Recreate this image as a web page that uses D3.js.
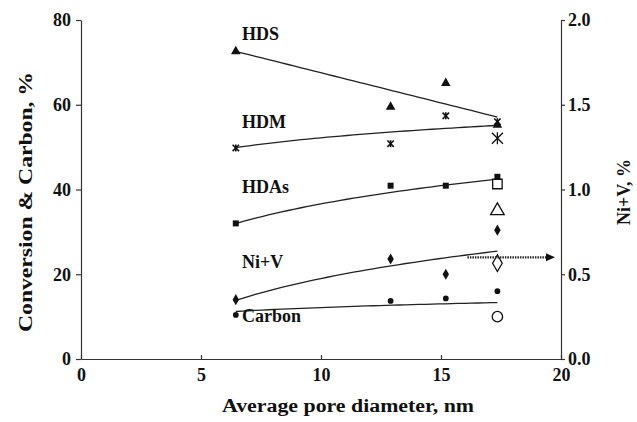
<!DOCTYPE html>
<html>
<head>
<meta charset="utf-8">
<script src="https://cdn.jsdelivr.net/npm/d3@7"></script>
<style>
  body { margin: 0; background: #fff; }
  text { font-family: "Liberation Serif", "Times New Roman", serif; font-weight: bold; fill: #111; }
</style>
</head>
<body>
<svg id="chart" width="637" height="422"></svg>
<script>
// pore diameters of the four catalysts, nm
var poreDiam = [6.45, 12.9, 15.2, 17.35];

// measured values (left axis, %)
var hds    = [72.6, 59.5, 65.1, 55.2];
var hdm    = [49.8, 50.8, 57.4, 56.0];
var hdas   = [32.0, 40.9, 40.9, 43.0];
var carbon = [10.4, 13.7, 14.3, 16.0];
// Ni+V on the right axis, %
var niv    = [0.35, 0.59, 0.50, 0.76];

// open markers at the last catalyst
var openX = 17.35;
var openHds = 35.0, openHdm = 52.1, openHdas = 41.3, openCarbon = 10.0, openNiv = 0.565;

// trendlines: HDS linear (a*x + b), the rest log (a*ln(x) + b)
var trendA = { hds: -1.422, hdm: 5.3, hdas: 10.6, niv: 0.293, carbon: 2.13 };
var trendB = { hds: 81.77, hdm: 40.0, hdas: 12.2, niv: -0.20, carbon: 7.24 };
var trendLog = { hds: false, hdm: true, hdas: true, niv: true, carbon: true };

var xTicks = [0, 5, 10, 15, 20];
var yTicks = [0, 20, 40, 60, 80];
var y2Ticks = [0, 0.5, 1.0, 1.5, 2.0];

var svg = d3.select("#chart");
var pLeft = 81, pRight = 561, pTop = 20, pBottom = 359;
var ink = "#222";

var x = d3.scaleLinear().domain([0, 20]).range([pLeft, pRight]);
var y = d3.scaleLinear().domain([0, 80]).range([pBottom, pTop]);
var y2 = d3.scaleLinear().domain([0, 2]).range([pBottom, pTop]);

// axes
var gx = svg.append("g").attr("transform", "translate(0," + pBottom + ")")
  .call(d3.axisBottom(x).tickValues(xTicks).tickSizeInner(-4).tickSizeOuter(0).tickPadding(9));
var gy = svg.append("g").attr("transform", "translate(" + pLeft + ",0)")
  .call(d3.axisLeft(y).tickValues(yTicks).tickSizeInner(5).tickSizeOuter(0).tickPadding(5));
var gy2 = svg.append("g").attr("transform", "translate(" + pRight + ",0)")
  .call(d3.axisRight(y2).tickValues(y2Ticks).tickFormat(d3.format(".1f")).tickSizeInner(4).tickSizeOuter(0).tickPadding(3));

[gx, gy, gy2].forEach(function(g) {
  g.selectAll("path,line").attr("stroke", "#333").attr("stroke-width", 1.2);
  g.selectAll("text").attr("font-size", 18).attr("fill", "#111")
    .attr("font-family", "Liberation Serif").attr("font-weight", "bold");
  g.attr("font-family", null).attr("font-size", null);
});

// axis titles
svg.append("text").attr("x", 348).attr("y", 412).attr("text-anchor", "middle")
  .attr("font-size", 18).attr("textLength", 252).attr("lengthAdjust", "spacingAndGlyphs")
  .text("Average pore diameter, nm");
svg.append("text").attr("transform", "translate(32,202) rotate(-90)").attr("text-anchor", "middle")
  .attr("font-size", 19).attr("textLength", 260).attr("lengthAdjust", "spacingAndGlyphs")
  .text("Conversion & Carbon, %");
svg.append("text").attr("transform", "translate(630,192) rotate(-90)").attr("text-anchor", "middle")
  .attr("font-size", 18).text("Ni+V, %");

// trendlines
var xs = d3.range(0, 41).map(function(i) { return poreDiam[0] + (poreDiam[3] - poreDiam[0]) * i / 40; });
function trend(key, scale) {
  var line = d3.line()
    .x(function(d) { return x(d); })
    .y(function(d) { return scale(trendA[key] * (trendLog[key] ? Math.log(d) : d) + trendB[key]); });
  svg.append("path").datum(xs).attr("d", line)
    .attr("fill", "none").attr("stroke", ink).attr("stroke-width", 1.3);
}
trend("hds", y); trend("hdm", y); trend("hdas", y); trend("niv", y2); trend("carbon", y);

// markers
function marks(vals, scale, type, size) {
  var sym = d3.symbol().type(type).size(size);
  svg.append("g").selectAll("path").data(vals).enter().append("path")
    .attr("transform", function(d, i) { return "translate(" + x(poreDiam[i]) + "," + scale(d) + ")"; })
    .attr("d", sym)
    .attr("fill", "#111");
}
function star(cx, cy, r, w) {
  var g = svg.append("g").attr("transform", "translate(" + cx + "," + cy + ")")
    .attr("stroke", "#111").attr("stroke-width", w);
  g.append("line").attr("x1", -r).attr("y1", -r).attr("x2", r).attr("y2", r);
  g.append("line").attr("x1", -r).attr("y1", r).attr("x2", r).attr("y2", -r);
  g.append("line").attr("x1", 0).attr("y1", -r * 1.1).attr("x2", 0).attr("y2", r * 1.1);
}

marks(hds, y, d3.symbolTriangle, 40);
hdm.forEach(function(d, i) { star(x(poreDiam[i]), y(d), 3.2, 1.6); });
marks(hdas, y, d3.symbolSquare, 36);
marks(niv, y2, d3.symbolDiamond, 36);
marks(carbon, y, d3.symbolCircle, 26);

// open markers
function openMark(val, scale, type, size) {
  svg.append("path").attr("transform", "translate(" + x(openX) + "," + scale(val) + ")")
    .attr("d", d3.symbol().type(type).size(size)())
    .attr("fill", "#fff").attr("stroke", "#111").attr("stroke-width", 1.3);
}
openMark(openHdas, y, d3.symbolSquare, 90);
openMark(openHds, y, d3.symbolTriangle, 80);
openMark(openNiv, y2, d3.symbolDiamond, 80);
openMark(openCarbon, y, d3.symbolCircle, 85);
star(x(openX), y(openHdm), 5.5, 1.3);

// dotted arrow pointing to the right axis
var arrowFrom = 16.1, arrowTo = 19.75, arrowVal = 0.6;
svg.append("line").attr("x1", x(arrowFrom)).attr("x2", x(arrowTo) - 8)
  .attr("y1", y2(arrowVal)).attr("y2", y2(arrowVal))
  .attr("stroke", "#222").attr("stroke-width", 2.2).attr("stroke-dasharray", "1.5,1");
svg.append("path")
  .attr("d", d3.line()([[x(arrowTo) - 9, y2(arrowVal) - 4], [x(arrowTo), y2(arrowVal)], [x(arrowTo) - 9, y2(arrowVal) + 4]]) + "Z")
  .attr("fill", "#111");

// series labels
var labels = [["HDS", 40], ["HDM", 128], ["HDAs", 193], ["Ni+V", 268], ["Carbon", 322]];
svg.append("g").selectAll("text").data(labels).enter().append("text")
  .attr("x", 242).attr("y", function(d) { return d[1]; })
  .attr("font-size", 18).text(function(d) { return d[0]; });
</script>
</body>
</html>
